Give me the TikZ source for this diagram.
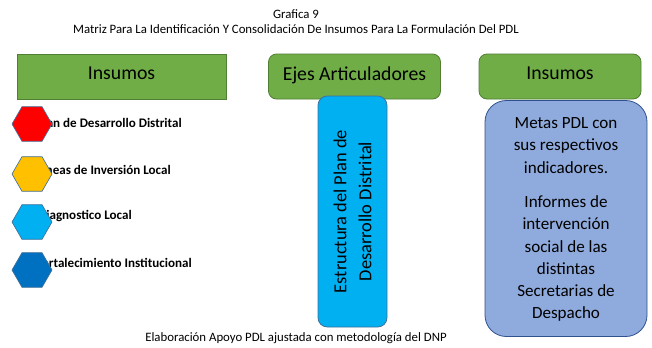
\documentclass[tikz,border=0pt]{standalone}
\usepackage{fontspec}
\setmainfont{Carlito}
\usepackage{xcolor}
\usetikzlibrary{shapes.geometric}

\definecolor{hdgreen}{RGB}{112,173,71}
\definecolor{hdgreenline}{RGB}{80,126,50}
\definecolor{skyblue}{RGB}{0,176,240}
\definecolor{skyline}{RGB}{65,113,156}
\definecolor{paleblue}{RGB}{143,170,220}
\definecolor{paleline}{RGB}{47,82,143}
\definecolor{hexyellow}{RGB}{255,192,0}
\definecolor{hexdark}{RGB}{0,112,192}

\tikzset{
  header/.style={draw=hdgreenline, fill=hdgreen, line width=0.6pt, minimum height=33.75pt, inner sep=0pt, text depth=4.5pt, font=\fontsize{14.8}{16}\selectfont},
  hexa/.style={regular polygon, regular polygon sides=6, draw=skyline, line width=0.5pt, minimum size=30pt, inner sep=0pt},
  itemtext/.style={anchor=east, inner sep=0.75pt, font=\fontsize{9.8}{11}\selectfont\bfseries},
  captext/.style={inner sep=0.75pt, font=\fontsize{9.6}{11}\selectfont}
}

\begin{document}
\begin{tikzpicture}[x=0.75pt,y=0.75pt,yscale=-1,xscale=1]
\useasboundingbox (0,0) rectangle (652,347);

% Title
\node[captext] (title) at (296,14) {Grafica 9};
\node[captext] (subtitle) at (296,29) {Matriz Para La Identificación Y Consolidación De Insumos Para La Formulación Del PDL};

% Headers
\node[header, minimum width=156.75pt] (insleft) at (121.5,76.5) {Insumos};
\node[header, rounded corners=6pt, minimum width=129pt] (ejes) at (354.5,76.5) {Ejes Articuladores};
\node[header, rounded corners=6pt, minimum width=121.5pt] (insright) at (560,76.5) {Insumos};

% Items
\node[itemtext] (plan) at (183,123) {Plan de Desarrollo Distrital};
\node[itemtext] (lineas) at (172,170) {Líneas de Inversión Local};
\node[itemtext] (diag) at (133,216) {Diagnostico Local};
\node[itemtext] (fort) at (193,263) {Fortalecimiento Institucional};

% Hexagons
\node[hexa, fill=red] (hexplan) at (32,124) {};
\node[hexa, fill=hexyellow] (hexlineas) at (32,174) {};
\node[hexa, fill=skyblue] (hexdiag) at (32,222) {};
\node[hexa, fill=hexdark] (hexfort) at (32,270) {};

% Structure column
\node[draw=skyline, fill=skyblue, line width=0.6pt, rounded corners=7pt, minimum width=51.75pt, minimum height=173.25pt, inner sep=0pt] (estr) at (352.5,211.5) {};
\node[rotate=90, align=center, font=\fontsize{13.8}{18.75}\selectfont] (estrtext) at (estr.center) {Estructura del Plan de\\Desarrollo Distrital};

% Inputs column
\node[draw=paleline, fill=paleblue, line width=0.6pt, rounded corners=16pt, minimum width=121.5pt, minimum height=177pt, inner sep=0pt] (metas) at (566,218.5) {};
\node[align=center, font=\fontsize{12.8}{16.7}\selectfont, anchor=north] (metastext) at (566,113) {Metas PDL con\\sus respectivos\\indicadores.\\[9pt]Informes de\\intervención\\social de las\\distintas\\Secretarias de\\Despacho};

% Caption
\node[captext] (source) at (296,338) {Elaboración Apoyo PDL ajustada con metodología del DNP};
\end{tikzpicture}
\end{document}
